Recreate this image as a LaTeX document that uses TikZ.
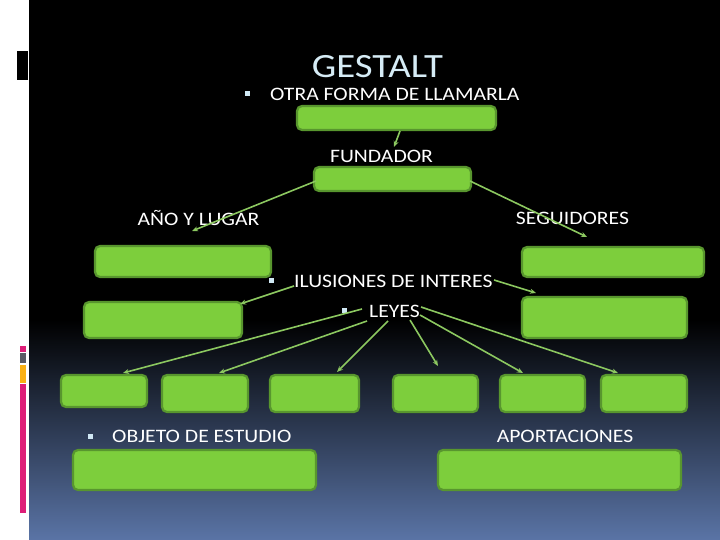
\documentclass[tikz,border=0pt]{standalone}
\usepackage{fontspec}
\setmainfont[FakeStretch=1.14]{Carlito}
\usetikzlibrary{arrows.meta}
\definecolor{boxfill}{RGB}{125,206,60}
\definecolor{boxline}{RGB}{88,150,46}
\definecolor{arr}{RGB}{140,200,96}
\definecolor{bul}{RGB}{208,232,244}
\definecolor{titlec}{RGB}{214,236,246}
\definecolor{bgbot}{RGB}{90,116,166}
\definecolor{pinkc}{RGB}{222,30,120}
\definecolor{grayc}{RGB}{90,90,100}
\definecolor{orangec}{RGB}{250,176,20}
\tikzset{
  gbox/.style={draw=boxline, fill=boxfill, line width=2.2pt, rounded corners=5pt, minimum width=#1, inner sep=0pt},
  lbl/.style={text=white, font=\fontsize{19}{21}\selectfont, inner sep=0pt},
  conn/.style={draw=arr, line width=1.6pt, -{Stealth[length=6pt,width=5pt]}},
  bullet/.style={fill=bul, minimum size=5pt, inner sep=0pt}
}
\begin{document}
\begin{tikzpicture}[x=1pt,y=-1pt]
\useasboundingbox (0,0) rectangle (720,540);
% background
\fill[white] (0,0) rectangle (29,540);
\fill[black] (29,0) rectangle (720,322);
\shade[top color=black, bottom color=bgbot] (29,320) rectangle (720,540);
% left decorations
\fill[black] (17,51) rectangle (28,80);
\fill[pinkc] (20,346) rectangle (26,352);
\fill[grayc] (20,353) rectangle (26,363);
\fill[orangec] (20,365) rectangle (26,383);
\fill[pinkc] (20,384) rectangle (26,513);
% title
\node[text=titlec, font=\fontsize{34}{37}\selectfont, inner sep=0pt] (title) at (377.5,67) {GESTALT};
% labels
\node[bullet] (bu1) at (247,94) {};
\node[lbl, anchor=west] (otra) at (270,94) {OTRA FORMA DE LLAMARLA};
\node[lbl] (fund) at (381.5,156) {FUNDADOR};
\node[lbl] (ano) at (198.5,218) {AÑO Y LUGAR};
\node[lbl] (seg) at (572.5,218) {SEGUIDORES};
\node[bullet] (bu2) at (271,280) {};
\node[lbl, anchor=west] (ilu) at (294,281) {ILUSIONES DE INTERES};
\node[bullet] (bu3) at (344,310) {};
\node[lbl, anchor=west] (ley) at (369,311) {LEYES};
\node[bullet] (bu4) at (90,436) {};
\node[lbl, anchor=west] (obj) at (112,436) {OBJETO DE ESTUDIO};
\node[lbl] (apo) at (565,436) {APORTACIONES};
% boxes
\node[gbox=199pt, minimum height=24pt] (b0) at (396.5,118) {};
\node[gbox=157pt, minimum height=24pt] (b1) at (392.5,179) {};
\node[gbox=176pt, minimum height=31pt] (b2) at (183,261.5) {};
\node[gbox=182pt, minimum height=30pt] (b3) at (613,262) {};
\node[gbox=158pt, minimum height=36pt] (b4) at (163,320) {};
\node[gbox=165pt, minimum height=41pt] (b5) at (604.5,317.5) {};
\node[gbox=86pt, minimum height=32pt] (c1) at (104,391) {};
\node[gbox=86pt, minimum height=37pt] (c2) at (205,393.5) {};
\node[gbox=89pt, minimum height=37pt] (c3) at (314.5,393.5) {};
\node[gbox=85pt, minimum height=37pt] (c4) at (435.5,393.5) {};
\node[gbox=85pt, minimum height=37pt] (c5) at (542.5,393.5) {};
\node[gbox=86pt, minimum height=37pt] (c6) at (644,393.5) {};
\node[gbox=243pt, minimum height=40pt] (d1) at (194.5,470) {};
\node[gbox=243pt, minimum height=40pt] (d2) at (559.5,470) {};
% connector points
\coordinate (s0) at (400,131);
\coordinate (e0) at (394,147);
\coordinate (s1) at (316,181);
\coordinate (e1) at (192,231);
\coordinate (s2) at (470,181);
\coordinate (e2) at (587,237);
\coordinate (s3) at (294,286);
\coordinate (e3) at (240,304);
\coordinate (s4) at (494,280);
\coordinate (e4) at (536,293);
\coordinate (p1) at (362,309);
\coordinate (p2) at (367,321);
\coordinate (p3) at (388,321);
\coordinate (p4) at (410,320);
\coordinate (p5) at (420,315);
\coordinate (p6) at (421,307);
\coordinate (t1) at (123,373);
\coordinate (t2) at (219,373);
\coordinate (t3) at (337,372);
\coordinate (t4) at (438,366);
\coordinate (t5) at (523,373);
\coordinate (t6) at (618,373);
% connectors
\draw[conn] (s0) -- (e0);
\draw[conn] (s1) -- (e1);
\draw[conn] (s2) -- (e2);
\draw[conn] (s3) -- (e3);
\draw[conn] (s4) -- (e4);
\draw[conn] (p1) -- (t1);
\draw[conn] (p2) -- (t2);
\draw[conn] (p3) -- (t3);
\draw[conn] (p4) -- (t4);
\draw[conn] (p5) -- (t5);
\draw[conn] (p6) -- (t6);
\end{tikzpicture}
\end{document}
